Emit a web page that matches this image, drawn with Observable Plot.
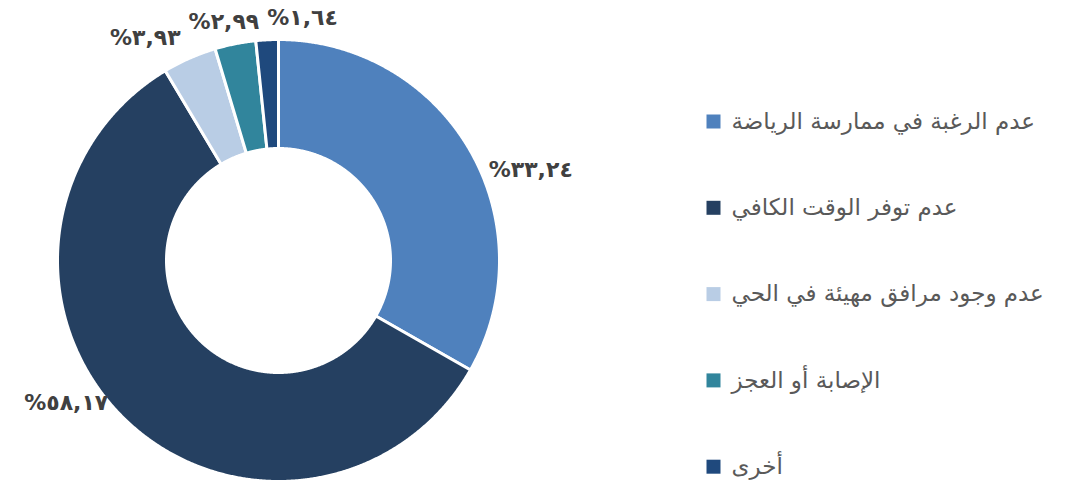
<!DOCTYPE html>
<html><head><meta charset="utf-8">
<script src="https://cdn.jsdelivr.net/npm/d3@7"></script>
<script src="https://cdn.jsdelivr.net/npm/@observablehq/plot@0.6"></script>
<style>html,body{margin:0;padding:0;background:#fff}</style>
</head><body><div id="chart"></div>
<script>
// ---- data ----
const categories = ["عدم الرغبة في ممارسة الرياضة", "عدم توفر الوقت الكافي", "عدم وجود مرافق مهيئة في الحي", "الإصابة أو العجز", "أخرى"];
const values = [33.24, 58.17, 3.93, 2.99, 1.64];
const colors = ["#4f81bd", "#254061", "#b9cde5", "#31859c", "#1f497d"];

// ---- layout (pixels) ----
const W = 1065, H = 484;
const CX = 278, CY = 260, RPX = 221;       // donut centre & outer radius in px
const INNER = 112 / 221;                    // inner radius in units
const LABEL_R = 1.1;
const FONT = "'DejaVu Sans', 'Noto Sans', sans-serif";
const LABEL_SIZE = 22, LEGEND_SIZE = 23;

// unit coordinate system: centre (0,0), outer radius 1
const xDomain = [-CX / RPX, (W - CX) / RPX];
const yDomain = [-(H - CY) / RPX, CY / RPX];
const px2ux = p => (p - CX) / RPX;
const py2uy = p => (CY - p) / RPX;

const arabicDigits = s => s.replace(/[0-9]/g, d => "٠١٢٣٤٥٦٧٨٩"[+d]);
const fmt = v => "%" + arabicDigits(v.toFixed(2).replace(".", ","));

const total = d3.sum(values);
const slices = [];
let acc = 0;
values.forEach((v, i) => {
  const a0 = acc / total * 2 * Math.PI;
  acc += v;
  const a1 = acc / total * 2 * Math.PI;
  slices.push({cat: categories[i], value: v, a0, a1, mid: (a0 + a1) / 2});
});

// ring-segment polygons
const pts = [];
for (const s of slices) {
  const n = Math.max(4, Math.ceil((s.a1 - s.a0) / 0.005));
  const ring = [];
  for (let k = 0; k <= n; k++) { const a = s.a0 + (s.a1 - s.a0) * k / n; ring.push([Math.sin(a), Math.cos(a)]); }
  for (let k = n; k >= 0; k--) { const a = s.a0 + (s.a1 - s.a0) * k / n; ring.push([INNER * Math.sin(a), INNER * Math.cos(a)]); }
  ring.push(ring[0]);
  ring.forEach(([x, y]) => pts.push({cat: s.cat, x, y}));
}

// label placement with simple collision avoidance
const ctx = document.createElement("canvas").getContext("2d");
ctx.font = `bold ${LABEL_SIZE}px ${FONT}`;
const labels = slices.map(s => {
  const sx = Math.sin(s.mid), sy = Math.cos(s.mid);
  const text = fmt(s.value);
  const w = ctx.measureText(text).width / RPX;
  const h = (LABEL_SIZE + 2) / RPX;
  let cx = LABEL_R * sx, cy = LABEL_R * sy;
  if (sx > 0.15) cx += w / 2; else if (sx < -0.15) cx -= w / 2;
  // side labels hang along the slice edge
  if (Math.abs(sx) > 0.6) cy += (sy > 0 ? -1 : 1) * h * 1.3;
  return {text, cx, cy, w, h, top: sy > 0.7};
});
const tops = labels.filter(l => l.top).sort((a, b) => (a.cx - a.w / 2) - (b.cx - b.w / 2));
for (let i = 1; i < tops.length; i++) {
  const prevRight = tops[i - 1].cx + tops[i - 1].w / 2 + 8 / RPX;
  const left = tops[i].cx - tops[i].w / 2;
  if (left < prevRight && Math.abs(tops[i].cy - tops[i - 1].cy) < tops[i].h) tops[i].cx += prevRight - left;
}

// legend
const legend = categories.map((c, i) => ({cat: c, x: px2ux(713), tx: px2ux(731), y: py2uy(121 + i * 86.3)}));

const chart = Plot.plot({
  width: W, height: H,
  margin: 0,
  x: {domain: xDomain, range: [0, W], axis: null},
  y: {domain: yDomain, range: [H, 0], axis: null},
  color: {domain: categories, range: colors},
  style: {fontFamily: FONT, background: "#fff"},
  marks: [
    Plot.line(pts, {x: "x", y: "y", z: "cat", fill: "cat", stroke: "#fff", strokeWidth: 3, strokeLinejoin: "round", curve: "linear"}),
    Plot.text(labels, {x: "cx", y: "cy", text: "text", textAnchor: "middle", lineAnchor: "middle", fontSize: LABEL_SIZE, fontWeight: "bold", fill: "#404040"}),
    Plot.dot(legend, {x: "x", y: "y", symbol: "square", r: 7.9, fill: "cat", stroke: null}),
    Plot.text(legend, {x: "tx", y: "y", text: "cat", textAnchor: "start", lineAnchor: "middle", fontSize: LEGEND_SIZE, fill: "#595959"})
  ]
});
document.getElementById("chart").append(chart);
</script>
</body></html>
